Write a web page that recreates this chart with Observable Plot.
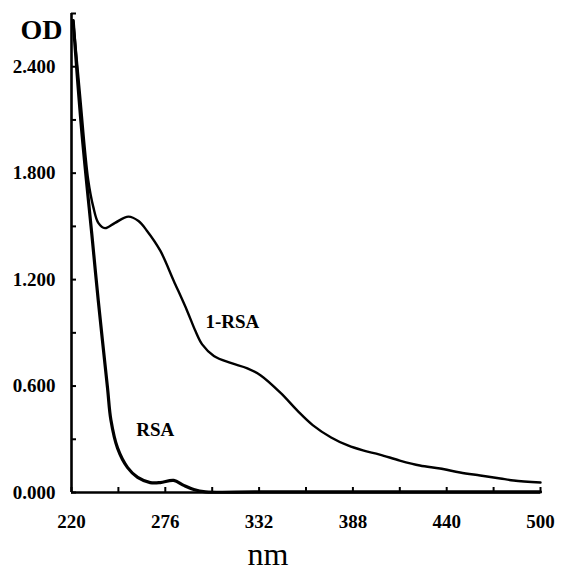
<!DOCTYPE html>
<html>
<head>
<meta charset="utf-8">
<script src="https://cdn.jsdelivr.net/npm/d3@7"></script>
<script src="https://cdn.jsdelivr.net/npm/@observablehq/plot@0.6"></script>
<style>
  html, body { margin: 0; padding: 0; background: #fff; }
  #chart svg { display: block; }
</style>
</head>
<body>
<div id="chart"></div>
<script>
// 1-RSA spectrum (nm, OD)
const nm1 = [221, 225, 230, 233, 236, 240, 246, 254, 260, 265, 273, 281, 289, 294, 298, 305, 315, 325, 333, 345, 355, 364, 375, 385, 394, 404, 416, 428, 440, 452, 464, 476, 484, 500];
const od1 = [2.66, 2.25, 1.76, 1.61, 1.52, 1.49, 1.52, 1.555, 1.53, 1.476, 1.363, 1.194, 1.025, 0.91, 0.835, 0.77, 0.73, 0.70, 0.66, 0.56, 0.46, 0.38, 0.31, 0.265, 0.237, 0.214, 0.18, 0.152, 0.135, 0.113, 0.096, 0.079, 0.068, 0.056];

// RSA spectrum (nm, OD)
const nm2 = [221, 226, 232.5, 236, 241.5, 243.5, 247.5, 253.5, 259.5, 267, 273, 281, 287, 293, 300, 330, 400, 500];
const od2 = [2.66, 2.05, 1.42, 1.08, 0.59, 0.41, 0.25, 0.14, 0.085, 0.056, 0.056, 0.068, 0.04, 0.017, 0.004, 0.003, 0.003, 0.003];

// Axis ticks and labels
const xTicks = [220, 248, 276, 304, 332, 360, 388, 416, 444, 472, 500];
const xLabelValues = [220, 276, 332, 388, 444, 500];
const xLabels = ["220", "276", "332", "388", "440", "500"];
const yTicks = [0, 0.3, 0.6, 0.9, 1.2, 1.5, 1.8, 2.1, 2.4, 2.7];
const yLabelValues = [0, 0.6, 1.2, 1.8, 2.4];
const yLabels = ["0.000", "0.600", "1.200", "1.800", "2.400"];

// Curve labels
const curveNames = ["1-RSA", "RSA"];
const curveLabelX = [316, 270];
const curveLabelY = [0.96, 0.355];

const series1 = nm1.map((x, i) => ({nm: x, od: od1[i]}));
const series2 = nm2.map((x, i) => ({nm: x, od: od2[i]}));
const labelData = curveNames.map((n, i) => ({name: n, nm: curveLabelX[i], od: curveLabelY[i]}));

const font = "'Liberation Serif', 'Times New Roman', serif";

const chart = Plot.plot({
  width: 563,
  height: 572,
  marginLeft: 71,
  marginRight: 23,
  marginTop: 13,
  marginBottom: 80,
  style: {fontFamily: font, fontSize: "19px", fontWeight: "bold", color: "#000", background: "#fff"},
  x: {domain: [220, 500], axis: null},
  y: {domain: [0, 2.7], axis: null},
  marks: [
    // tick marks (pointing inward)
    Plot.axisY(yTicks, {anchor: "left", tickSize: -5, tickFormat: () => "", strokeWidth: 2, label: null}),
    Plot.axisX(xTicks, {anchor: "bottom", tickSize: -5, tickFormat: () => "", strokeWidth: 2, label: null}),
    // tick labels
    Plot.axisY(yLabelValues, {anchor: "left", tickSize: 0, tickPadding: 16, tickFormat: (d, i) => yLabels[i], fontSize: 19, fontWeight: "bold", fontFamily: font, label: null}),
    Plot.axisX(xLabelValues, {anchor: "bottom", tickSize: 0, tickPadding: 22, tickFormat: (d, i) => xLabels[i], fontSize: 19, fontWeight: "bold", fontFamily: font, label: null}),
    // axis lines
    Plot.ruleX([220], {y1: 0, y2: 2.7, strokeWidth: 2.6}),
    Plot.ruleY([0], {x1: 220, x2: 500, strokeWidth: 2.6}),
    // spectra
    Plot.line(series1, {x: "nm", y: "od", curve: "catmull-rom", stroke: "#000", strokeWidth: 2.4}),
    Plot.line(series2, {x: "nm", y: "od", curve: "catmull-rom", stroke: "#000", strokeWidth: 3.2}),
    // curve labels
    Plot.text(labelData, {x: "nm", y: "od", text: "name", fontSize: 19, fontWeight: "bold", fontFamily: font, fill: "#000"}),
    // axis titles
    Plot.text(["OD"], {frameAnchor: "top-left", dx: -9, dy: 6, textAnchor: "end", fontSize: 28, fontWeight: "bold", fontFamily: font, fill: "#000"}),
    Plot.text(["nm"], {frameAnchor: "bottom", dx: -38, dy: 72, fontSize: 32, fontWeight: "normal", fontFamily: font, fill: "#000"})
  ]
});
document.getElementById("chart").appendChild(chart);
</script>
</body>
</html>
